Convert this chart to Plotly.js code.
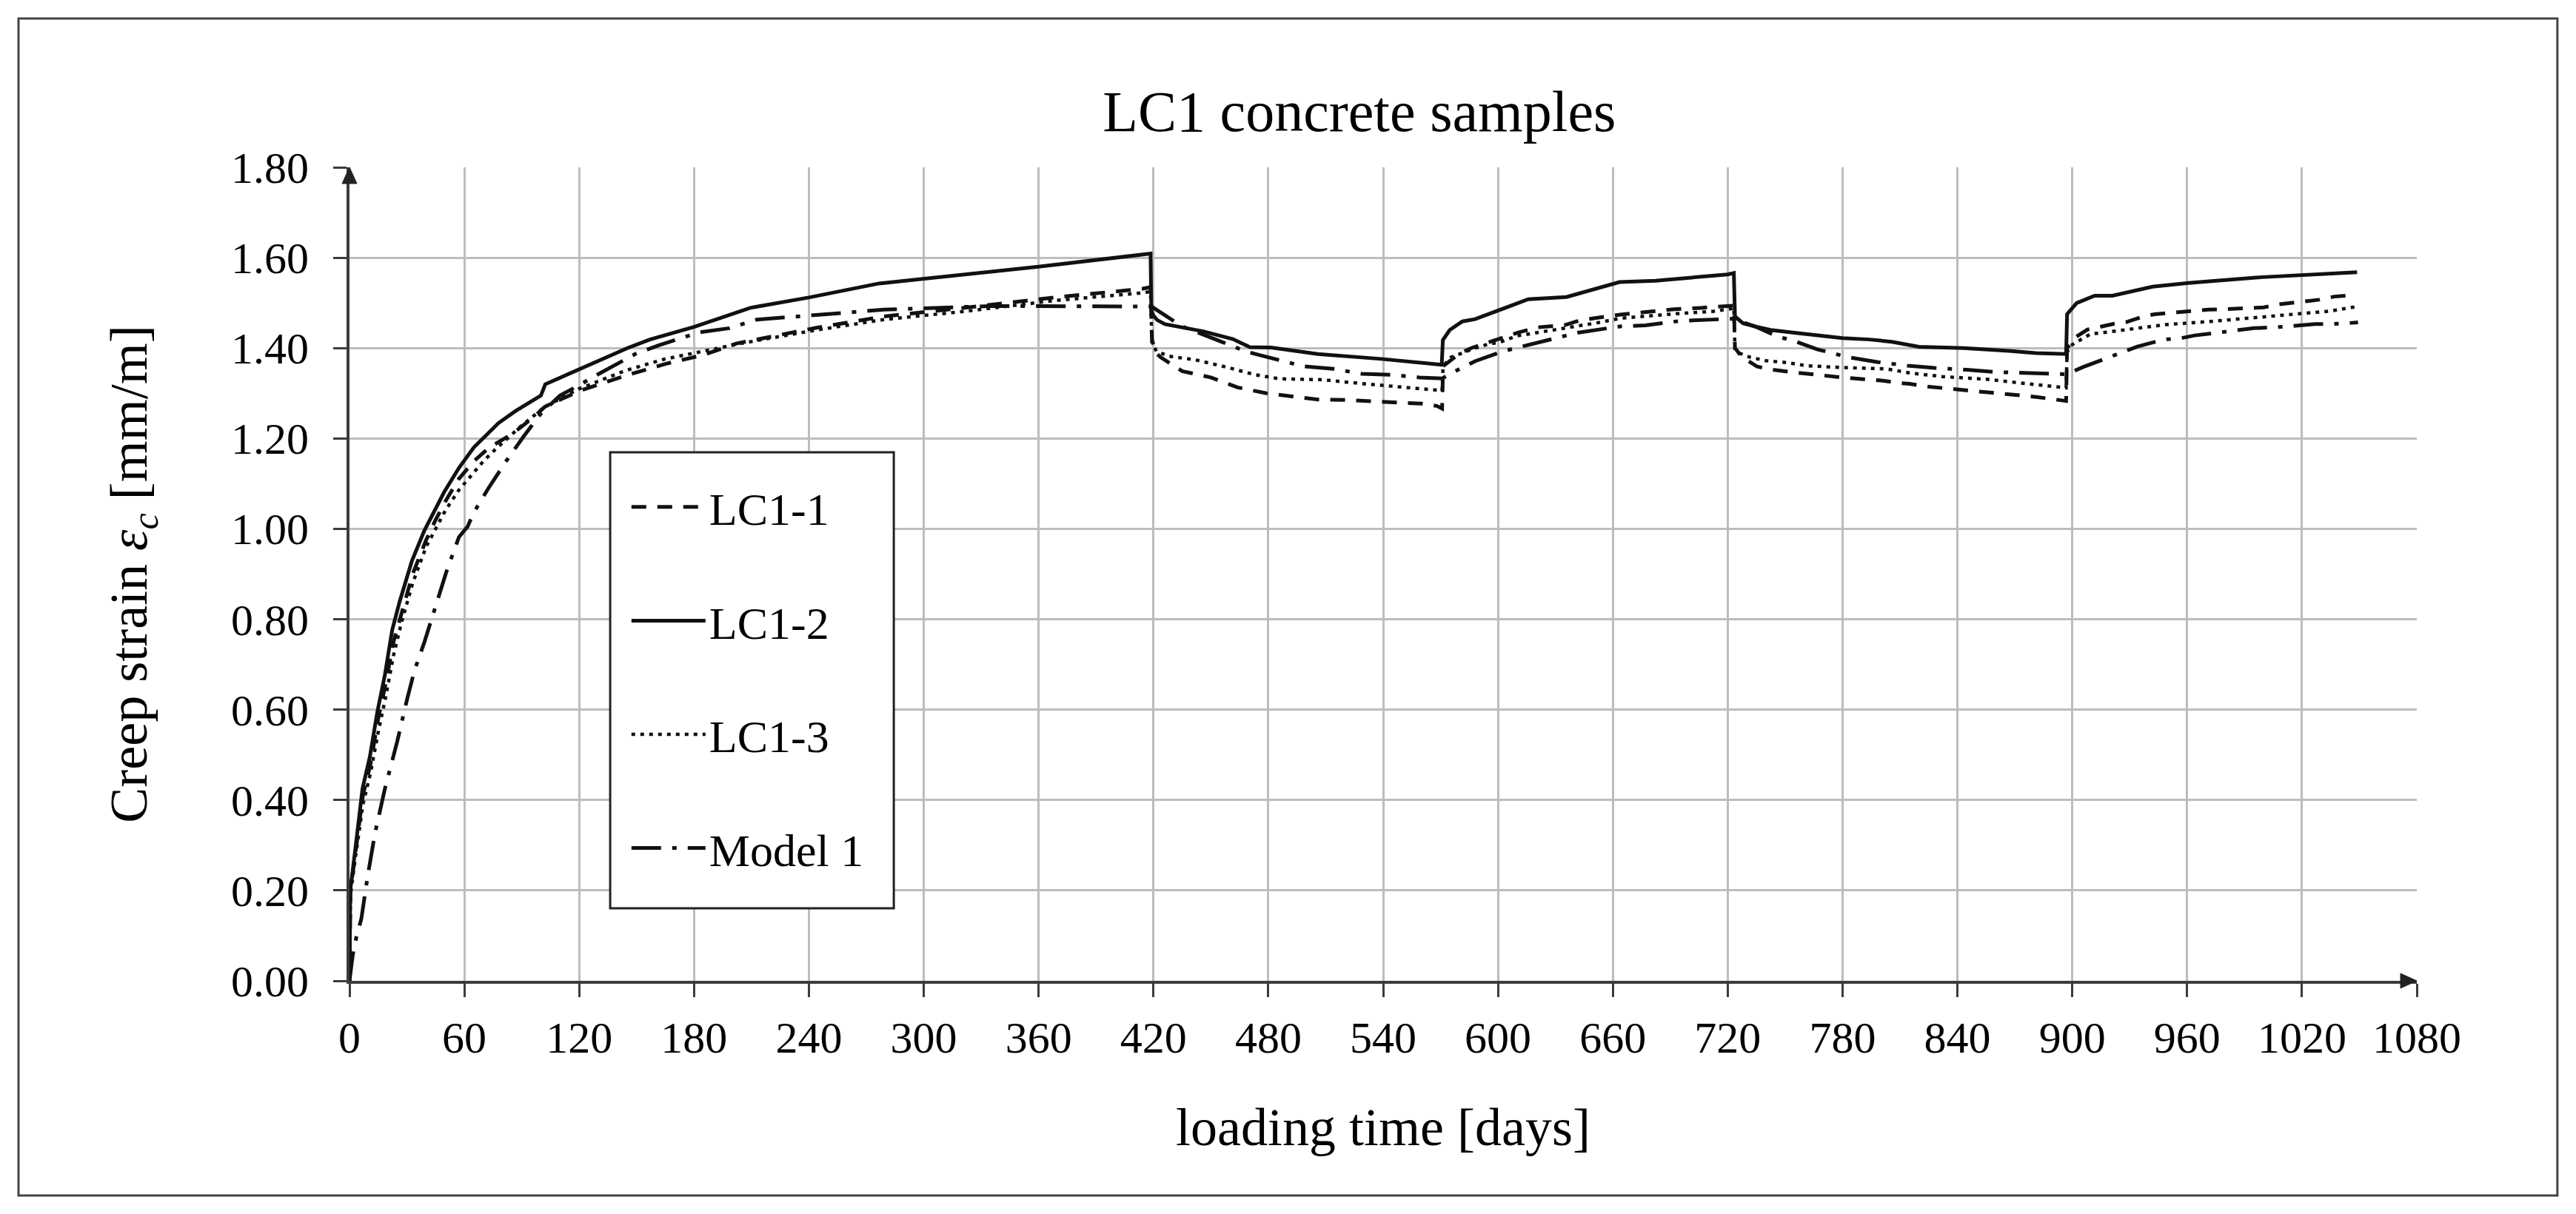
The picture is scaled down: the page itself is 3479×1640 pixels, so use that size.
<!DOCTYPE html>
<html>
<head>
<meta charset="utf-8">
<script src="https://cdn.plot.ly/plotly-3.0.1.min.js"></script>
<style>html,body{margin:0;padding:0;background:#fff;}#chart{width:3479px;height:1640px;}</style>
</head>
<body>
<div id="chart"></div>
<script>
// ---- data ----
const seriesNames = ["LC1-1", "LC1-2", "LC1-3", "Model 1"];

const lc11Days = [0,0.5,3,7,11,15,19,23,27,33, 40,45,50,57,65,73,85,97,102,120,
  145,165,185,202,244,279,323,368,414,418.5, 419.2,421,424,435,450,464,479,506,522,536,
  550,560,568,570.8,571.3,575,580,586,597,611, 621,635,641,650,664,678,692,706,718,723.2,
  723.8,727.5,735.4,742,753,763,772,781,791,801, 809,815,824,832,840,846,856,866,873,881,
  888,895,896.8,897.3,902,908,914,922,928,937, 943,950,957,964,971,980,985,994,1000,1008,
  1014,1023,1029,1037,1043,1047];
const lc11Strain = [0,0.2,0.28,0.41,0.48,0.58,0.66,0.75,0.81,0.9, 0.975,1.02,1.06,1.11,1.15,1.18,1.21,1.25,1.27,1.305,
  1.34,1.365,1.385,1.41,1.445,1.47,1.49,1.512,1.531,1.535, 1.42,1.39,1.379,1.349,1.335,1.313,1.30,1.286,1.285,1.282,
  1.279,1.277,1.272,1.266,1.36,1.372,1.388,1.40,1.415,1.435, 1.446,1.451,1.459,1.466,1.474,1.48,1.486,1.489,1.492,1.494,
  1.40,1.38,1.359,1.353,1.347,1.342,1.339,1.3345,1.331,1.328, 1.323,1.321,1.315,1.312,1.31,1.307,1.302,1.298,1.296,1.292,
  1.288,1.284,1.283,1.40,1.425,1.441,1.447,1.454,1.457,1.47, 1.475,1.478,1.479,1.483,1.485,1.486,1.487,1.489,1.49,1.497,
  1.499,1.504,1.507,1.514,1.516,1.518];

const lc12Days = [0,0.4,3,6.8,10.7,14.6,18.5,22.3,26.2,32.6, 39.1,44.3,49.4,57.2,64.9,71.4,77.8,86.8,97.2,100,
  102.3,120,145.2,157,180,209.4,240,276.7,300,360, 418.5,418.9,420,422,426,446,461.5,470.4,481.5,505.8,
  539,570.6,571.2,574.8,581.4,588,615.8,635.8,663.5,682.4, 720,723.2,723.8,728,735,742.4,756.5,780,794,805.8,
  819.9,843.4,866.9,881,896.8,897.3,902.3,911.7,921,942, 960.8,999.5,1048.8];
const lc12Strain = [0,0.2,0.29,0.425,0.497,0.596,0.677,0.776,0.839,0.929, 0.996,1.041,1.081,1.135,1.18,1.207,1.234,1.261,1.286,1.295,
  1.32,1.353,1.40,1.419,1.447,1.489,1.512,1.543,1.553,1.58, 1.609,1.484,1.472,1.462,1.453,1.437,1.42,1.402,1.401,1.387,
  1.376,1.363,1.418,1.44,1.459,1.464,1.508,1.513,1.546,1.549, 1.563,1.566,1.47,1.455,1.447,1.44,1.433,1.422,1.419,1.414,
  1.403,1.40,1.394,1.389,1.387,1.475,1.4997,1.516,1.516,1.536, 1.544,1.557,1.568];

const lc13Days = [0,0.5,3,7,11,15,19,23,27,33, 40,45,50,57,64,70,76,89,102,120,
  144,164,187,204,244,279,323,368,414,418.5, 419.2,421.6,428,442,459,473,486,508,530,553,
  568,570.8,571.3,575.5,582,586,595,601,610,629, 652,664,680,696,712,722,723.2,723.8,726,731.5,
  740,751,761,779,803,815,832,855,866,879, 893,896.8,897.3,899,905,910,914,928,949,972.5,
  996,1019.4,1035,1047.6];
const lc13Strain = [0,0.19,0.27,0.39,0.46,0.55,0.63,0.72,0.79,0.88, 0.96,1.0,1.04,1.085,1.12,1.15,1.175,1.225,1.27,1.31,
  1.35,1.375,1.395,1.41,1.44,1.463,1.482,1.505,1.522,1.525, 1.41,1.393,1.382,1.374,1.357,1.341,1.332,1.33,1.321,1.313,
  1.308,1.306,1.36,1.38,1.39,1.397,1.409,1.413,1.427,1.44, 1.456,1.466,1.472,1.477,1.481,1.487,1.49,1.395,1.389,1.38,
  1.372,1.368,1.361,1.357,1.354,1.345,1.337,1.331,1.326,1.32, 1.313,1.312,1.39,1.405,1.42,1.432,1.433,1.44,1.452,1.459,
  1.467,1.476,1.482,1.491];

const modelDays = [0,1.7,3.6,6.2,9.4,13.3,18.5,24.9,30.1,33.9, 39.1,44.3,50.7,57.2,61.7,64.9,72.6,81.7,90.7,100,
  110,120,129,149.6,161.4,183,198.4,212.8,248.2,279.2, 334.5,412,419,426,435,455,468,475,484,498,
  506,514,529,544,559,571,575,588,602.7,610.4, 632.7,641.6,663.8,677,694.9,708,723,735.4,747,753,
  767,782.8,798.6,814,828,845,860,875,890.6,897, 905.6,919.7,926.8,933.8,947.9,957,964,979.8,995,1010.3,
  1027,1041,1049.3];
const modelStrain = [0,0.057,0.097,0.1375,0.229,0.326,0.425,0.529,0.623,0.686, 0.749,0.821,0.906,0.982,1.005,1.036,1.09,1.149,1.203,1.255,
  1.295,1.318,1.34,1.3875,1.406,1.435,1.444,1.463,1.474,1.485, 1.493,1.493,1.492,1.4725,1.448,1.415,1.393,1.385,1.376,1.36,
  1.357,1.354,1.343,1.341,1.335,1.333,1.343,1.371,1.393,1.401, 1.426,1.434,1.448,1.4505,1.46,1.4626,1.465,1.446,1.424,1.4185,
  1.397,1.38,1.369,1.361,1.356,1.352,1.347,1.345,1.343,1.342, 1.358,1.381,1.392,1.403,1.419,1.422,1.428,1.436,1.444,1.447,
  1.453,1.454,1.457];

const chartTitle = "LC1 concrete samples";
const xTitle = "loading time [days]";
const yTitle = "Creep strain <i>ε</i><sub><i>c</i></sub> [mm/m]";

// ---- styling ----
const FONT = "'Liberation Serif', 'Times New Roman', serif";
const INK = "#111111";
const dashes = ["20px,15px", "solid", "5px,7px", "40px,15px,6px,15px"];
const widths = [5, 5, 4.5, 5];
const xs = [lc11Days, lc12Days, lc13Days, modelDays];
const ys = [lc11Strain, lc12Strain, lc13Strain, modelStrain];

const traces = seriesNames.map((name, i) => ({
  type: "scatter",
  mode: "lines",
  name: name,
  legendgroup: "g" + i,
  x: xs[i],
  y: ys[i],
  line: {color: INK, width: widths[i], dash: dashes[i], shape: "linear"},
  hoverinfo: "skip"
}));

const axisCommon = {
  showgrid: true,
  gridcolor: "#bdbdbd",
  gridwidth: 3,
  showline: true,
  linecolor: "#3c3c3c",
  linewidth: 4,
  ticks: "outside",
  ticklen: 18,
  tickwidth: 3,
  tickcolor: "#3c3c3c",
  zeroline: false,
  tickfont: {family: FONT, size: 60, color: "#000"},
  fixedrange: true
};

const layout = {
  width: 3479,
  height: 1640,
  paper_bgcolor: "#ffffff",
  plot_bgcolor: "#ffffff",
  margin: {l: 472, r: 215, t: 226, b: 315, pad: 0},
  font: {family: FONT, color: "#000"},
  title: {
    text: chartTitle,
    font: {family: FONT, size: 78, color: "#000"},
    xref: "paper", x: 0.4885, xanchor: "center",
    yref: "container", y: 0.909, yanchor: "middle"
  },
  xaxis: Object.assign({}, axisCommon, {
    range: [0, 1080],
    tick0: 0,
    dtick: 60,
    ticklabelstandoff: 3,
    title: {text: xTitle, font: {family: FONT, size: 72, color: "#000"}, standoff: 64}
  }),
  yaxis: Object.assign({}, axisCommon, {
    range: [0, 1.8],
    tick0: 0,
    dtick: 0.2,
    tickformat: ".2f",
    ticklabelstandoff: 21,
    title: {text: yTitle, font: {family: FONT, size: 72, color: "#000"}, standoff: 91}
  }),
  showlegend: true,
  legend: {
    x: 0.1346, y: 0.6251, xanchor: "left", yanchor: "top",
    xref: "paper", yref: "paper",
    bgcolor: "rgba(0,0,0,0)",
    borderwidth: 0,
    font: {family: FONT, size: 62, color: "#000"},
    traceorder: "grouped",
    tracegroupgap: 70,
    itemwidth: 100
  },
  shapes: [
    // outer frame of the figure
    {type: "rect", xref: "paper", yref: "paper",
     x0: -0.1601, x1: 1.068, y0: -0.2639, y1: 1.1829,
     line: {color: "#444444", width: 3}, fillcolor: "rgba(0,0,0,0)", layer: "below"},
    // legend box
    {type: "rect", xref: "paper", yref: "paper",
     x0: 0.1261, x1: 0.2633, y0: 0.0892, y1: 0.6497,
     line: {color: "#222222", width: 3}, fillcolor: "#ffffff", layer: "above"},
    // arrow head on the y axis
    {type: "path", xref: "paper", yref: "paper", xsizemode: "pixel", ysizemode: "pixel",
     xanchor: 0, yanchor: 1, path: "M0,0 L-10,-22 L10,-22 Z",
     fillcolor: "#222222", line: {color: "#222222", width: 1}, layer: "above"},
    // arrow head on the x axis
    {type: "path", xref: "paper", yref: "paper", xsizemode: "pixel", ysizemode: "pixel",
     xanchor: 1, yanchor: 0, path: "M0,0 L-22,10 L-22,-10 Z",
     fillcolor: "#222222", line: {color: "#222222", width: 1}, layer: "above"}
  ]
};

Plotly.newPlot("chart", traces, layout, {staticPlot: true, displayModeBar: false});
</script>
</body>
</html>
